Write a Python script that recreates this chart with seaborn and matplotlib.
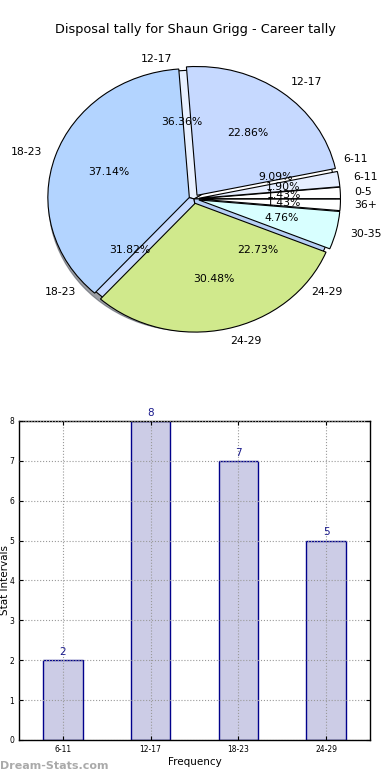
import matplotlib
matplotlib.use("Agg")
import matplotlib.pyplot as plt
import seaborn as sns
import pandas as pd

# career tally (outer, exploded pie)
career_labels = ['0-5', '6-11', '12-17', '18-23', '24-29', '30-35', '36+']
career_counts = [3, 4, 48, 78, 64, 10, 3]
career_colors = ['#ffffff', '#e6eeff', '#c6d9ff', '#b3d4ff', '#d0e98c', '#d8ffff', '#ffffff']

# stat intervals (pie behind + bar chart)
interval_labels = ['6-11', '12-17', '18-23', '24-29']
interval_counts = [2, 8, 7, 5]
interval_colors = ['#ffffff', '#e8f0ff', '#c6daff', '#b6cff5']

plt.rcParams['font.family'] = 'DejaVu Sans'

fig = plt.figure(figsize=(3.9, 7.8), dpi=100)

# Pie chart
ax1 = fig.add_axes([0.0295, 0.532, 0.936, 0.426])
ax1.pie(interval_counts, labels=interval_labels, colors=interval_colors,
        autopct='%1.2f%%', shadow=True, startangle=0,
        wedgeprops={'edgecolor': 'black', 'linewidth': 0.8},
        textprops={'fontsize': 7.8})
ax1.pie(career_counts, labels=career_labels, colors=career_colors,
        autopct='%1.2f%%', explode=[0.035] * len(career_counts), startangle=0,
        wedgeprops={'edgecolor': 'black', 'linewidth': 0.8},
        textprops={'fontsize': 7.8})
ax1.set_aspect('auto')
ax1.set_xlim(-1.29, 1.29)
ax1.set_ylim(-1.29, 1.29)
fig.text(0.5, 1 - 30 / 780, 'Disposal tally for Shaun Grigg - Career tally',
         ha='center', va='center', fontsize=9.3)

# Bar chart
ax2 = fig.add_axes([0.0487, 0.0513, 0.9, 0.409])
df = pd.DataFrame({'interval': interval_labels, 'count': interval_counts})
sns.barplot(data=df, x='interval', y='count', ax=ax2, width=0.45,
            color='#ccccE6', edgecolor='#00008b', linewidth=1, saturation=1)
for i, v in enumerate(interval_counts):
    ax2.text(i, v + 0.08, str(v), ha='center', va='bottom', fontsize=7.5, color='#1a1a8c')
ax2.set_xlim(-0.5, 3.5)
ax2.set_ylim(0, 8)
ax2.set_yticks(range(0, 9))
ax2.grid(True, linestyle=':', color='#999999', linewidth=0.8)
ax2.set_axisbelow(False)
ax2.tick_params(direction='in', top=True, right=True, labelsize=5.5, length=3)
ax2.set_xlabel('Frequency', fontsize=7.5, labelpad=2)
ax2.set_ylabel('Stat Intervals', fontsize=7.5)
ax2.yaxis.set_label_coords(-0.026, 0.5)
for s in ax2.spines.values():
    s.set_linewidth(1)

fig.text(0.0, 0.012, 'Dream-Stats.com', fontsize=8, color='#aaaaaa',
         fontweight='bold', ha='left', va='bottom')

fig.savefig('out.png', dpi=100)
